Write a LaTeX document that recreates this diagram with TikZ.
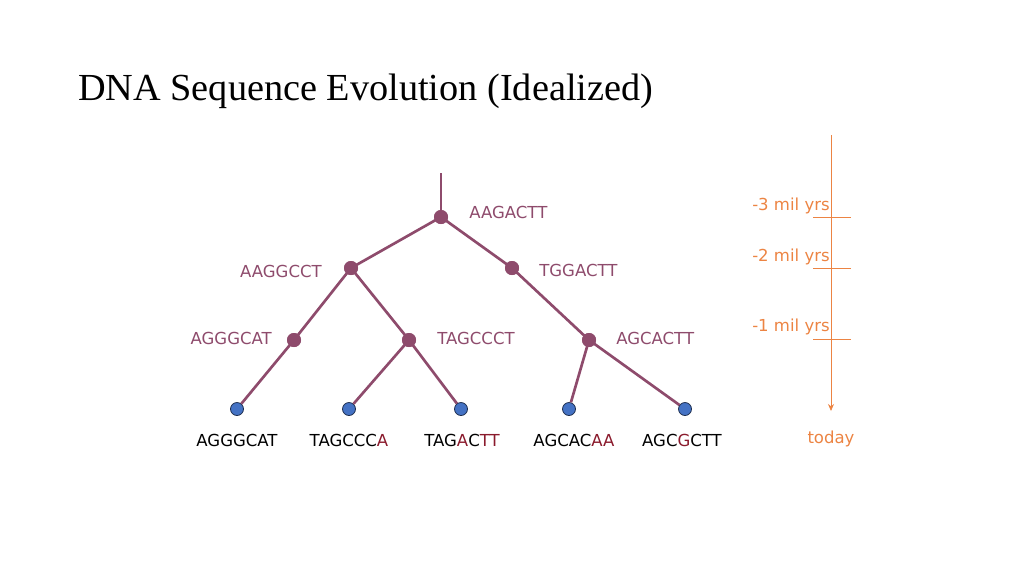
\documentclass[tikz,border=0pt]{standalone}
\usepackage{fontspec}
\setmainfont{Liberation Serif}
\newfontfamily\seqfont{DejaVu Sans}
\usetikzlibrary{arrows.meta}
\definecolor{mauve}{HTML}{8E4B6C}
\definecolor{leafblue}{HTML}{4472C4}
\definecolor{leafedge}{HTML}{1F2F4F}
\definecolor{tlorange}{HTML}{EC8443}
\definecolor{seqred}{HTML}{8A1A2C}
\newcommand{\rd}[1]{\textcolor{seqred}{#1}}
\tikzset{
  inner/.style={circle, fill=mauve, inner sep=0pt, minimum size=14pt*0.75},
  leaf/.style={circle, fill=leafblue, draw=leafedge, line width=0.6pt, inner sep=0pt, minimum size=13pt*0.75},
  edge/.style={draw=mauve, line width=2pt},
  ilabel/.style={text=mauve, font=\seqfont\fontsize{12.4pt}{14pt}\selectfont, inner sep=0pt},
  llabel/.style={text=black, font=\seqfont\fontsize{12.4pt}{14pt}\selectfont, inner sep=0pt},
  tlabel/.style={text=tlorange, font=\seqfont\fontsize{12.4pt}{14pt}\selectfont, inner sep=0pt},
  tl/.style={draw=tlorange, line width=0.6pt},
}
\begin{document}
\begin{tikzpicture}[x=0.75pt, y=-0.75pt]
\useasboundingbox (0,0) rectangle (1024,576);
% title
\node[anchor=base west, inner sep=0pt, font=\fontsize{28.7pt}{34pt}\selectfont] (title) at (78,100) {DNA Sequence Evolution (Idealized)};
% tree nodes
\coordinate (top) at (441,173);
\node[inner] (r) at (441,217) {};
\node[inner] (a) at (351,268) {};
\node[inner] (b) at (512,268) {};
\node[inner] (c) at (294,340) {};
\node[inner] (d) at (409,340) {};
\node[inner] (e) at (589,340) {};
\node[leaf] (l1) at (237,409) {};
\node[leaf] (l2) at (349,409) {};
\node[leaf] (l3) at (461,409) {};
\node[leaf] (l4) at (569,409) {};
\node[leaf] (l5) at (685,409) {};
% edges
\draw[edge] (top) -- (r.center);
\draw[edge] (r.center) -- (a.center);
\draw[edge] (r.center) -- (b.center);
\draw[edge] (a.center) -- (c.center);
\draw[edge] (a.center) -- (d.center);
\draw[edge] (b.center) -- (e.center);
\draw[edge] (c.center) -- (l1);
\draw[edge] (d.center) -- (l2);
\draw[edge] (d.center) -- (l3);
\draw[edge] (e.center) -- (l4);
\draw[edge] (e.center) -- (l5);
% redraw dots on top
\foreach \n in {r,a,b,c,d,e} {\fill[mauve] (\n) circle (7);}
% internal labels
\node[ilabel, anchor=west] (tr) at (469,212) {AAGACTT};
\node[ilabel, anchor=east] (ta) at (322,271) {AAGGCCT};
\node[ilabel, anchor=west] (tb) at (539,270) {TGGACTT};
\node[ilabel, anchor=east] (tc) at (272,338) {AGGGCAT};
\node[ilabel, anchor=west] (td) at (437,338) {TAGCCCT};
\node[ilabel, anchor=west] (te) at (616,338) {AGCACTT};
% leaf labels
\node[llabel] (t1) at (237,440) {AGGGCAT};
\node[llabel] (t2) at (349,440) {TAGCCC\rd{A}};
\node[llabel] (t3) at (462,440) {TAG\rd{A}C\rd{TT}};
\node[llabel] (t4) at (574,440) {AGCAC\rd{AA}};
\node[llabel] (t5) at (682,440) {AGC\rd{G}CTT};
% timeline
\coordinate (ttop) at (831,135);
\coordinate (tbot) at (831,411);
\draw[tl, -{Stealth[length=7pt*0.75, width=6pt*0.75]}] (ttop) -- (tbot);
\coordinate (k3a) at (813,217); \coordinate (k3b) at (851,217);
\coordinate (k2a) at (813,268); \coordinate (k2b) at (851,268);
\coordinate (k1a) at (813,339); \coordinate (k1b) at (851,339);
\draw[tl] (k3a) -- (k3b);
\draw[tl] (k2a) -- (k2b);
\draw[tl] (k1a) -- (k1b);
\node[tlabel, anchor=base east] (m3) at (830,210) {-3 mil yrs};
\node[tlabel, anchor=base east] (m2) at (830,261) {-2 mil yrs};
\node[tlabel, anchor=base east] (m1) at (830,331) {-1 mil yrs};
\node[tlabel, anchor=base] (today) at (831,443) {today};
\end{tikzpicture}
\end{document}
